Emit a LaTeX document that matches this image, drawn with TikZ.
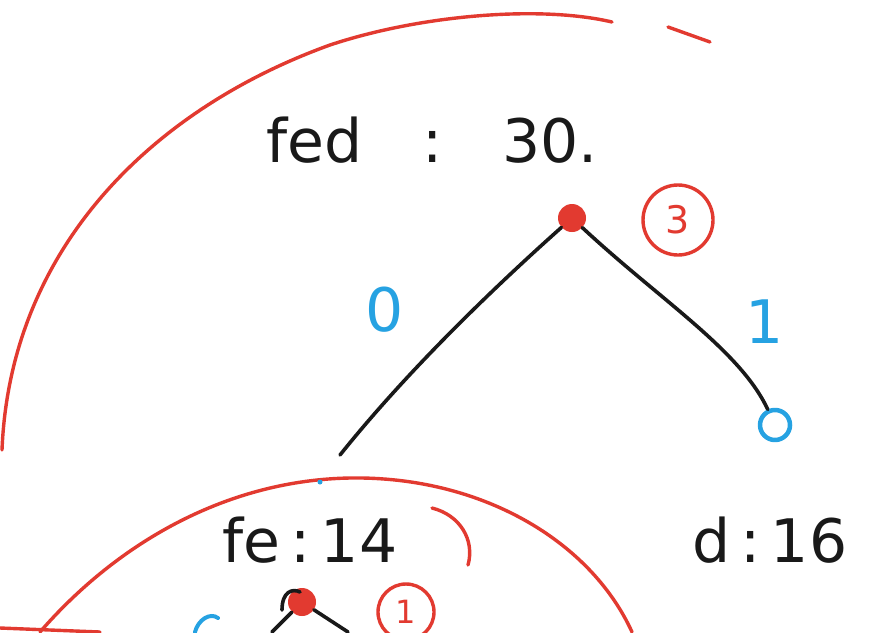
\documentclass[tikz,border=0pt]{standalone}
\usepackage{fontspec}
\setmainfont{DejaVu Sans}
\definecolor{penred}{RGB}{226,58,48}
\definecolor{penblue}{RGB}{38,162,226}
\definecolor{penblack}{RGB}{25,25,25}
\begin{document}
\begin{tikzpicture}[x=1pt,y=-1pt,line cap=round,line join=round,
  redpen/.style={draw=penred,line width=3.4pt},
  bluepen/.style={draw=penblue,line width=4pt},
  blackpen/.style={draw=penblack,line width=3.6pt},
  hand/.style={text=penblack,font=\fontsize{60}{66}\selectfont,inner sep=0pt},
  bluelabel/.style={text=penblue,font=\fontsize{60}{66}\selectfont,inner sep=0pt},
  rednum/.style={circle,draw=penred,line width=3.4pt,text=penred,font=\fontsize{38}{42}\selectfont,inner sep=2pt,minimum size=70pt},
  reddot/.style={circle,fill=penred,minimum size=28pt,inner sep=0pt},
  bluedot/.style={circle,draw=penblue,line width=4.5pt,minimum size=30pt,inner sep=0pt}]
\useasboundingbox (0,0) rectangle (877,632);
\fill[white] (0,0) rectangle (877,632);
% big outer red arc
\draw[redpen] (2,450) .. controls (10,250) and (150,110) .. (330,45)
  .. controls (420,15) and (540,5) .. (612,22);
\draw[redpen] (668,27) -- (710,42);
% inner red arc around fe
\draw[redpen] (40,632) .. controls (120,540) and (230,480) .. (350,478)
  .. controls (480,476) and (590,540) .. (632,632);
\draw[redpen] (432,508) .. controls (460,515) and (475,540) .. (468,565);
\draw[redpen] (0,628) -- (100,632);
% texts
\node[hand] (fed) at (432,140) {fed\quad:\quad 30.};
\node[hand] (fe) at (310,540) {fe\,:\,14};
\node[hand] (d) at (770,540) {d\,:\,16};
\node[bluelabel] (zero) at (385,310) {0};
\node[bluelabel] (one) at (765,322) {1};
% tree nodes
\node[reddot] (root) at (572,218) {};
\node[rednum] (c3) at (678,220) {3};
\node[bluedot] (rc) at (775,425) {};
\coordinate (lc) at (340,455);
\draw[blackpen] (root) .. controls (480,300) and (400,380) .. (lc);
\draw[blackpen] (root) .. controls (660,300) and (740,350) .. (rc);
% lower subtree
\node[reddot] (sub) at (302,602) {};
\node[rednum,minimum size=56pt,font=\fontsize{32}{36}\selectfont] (c1) at (406,612) {1};
\coordinate (sl) at (272,632);
\coordinate (sr) at (348,632);
\draw[blackpen] (sub) -- (sl);
\draw[blackpen] (sub) -- (sr);
\draw[blackpen] (282,610) .. controls (282,592) and (292,588) .. (300,592);
\draw[bluepen] (195,632) .. controls (198,620) and (210,612) .. (218,618);
\fill[penblue] (320,482) circle (2.5pt);
\end{tikzpicture}
\end{document}
